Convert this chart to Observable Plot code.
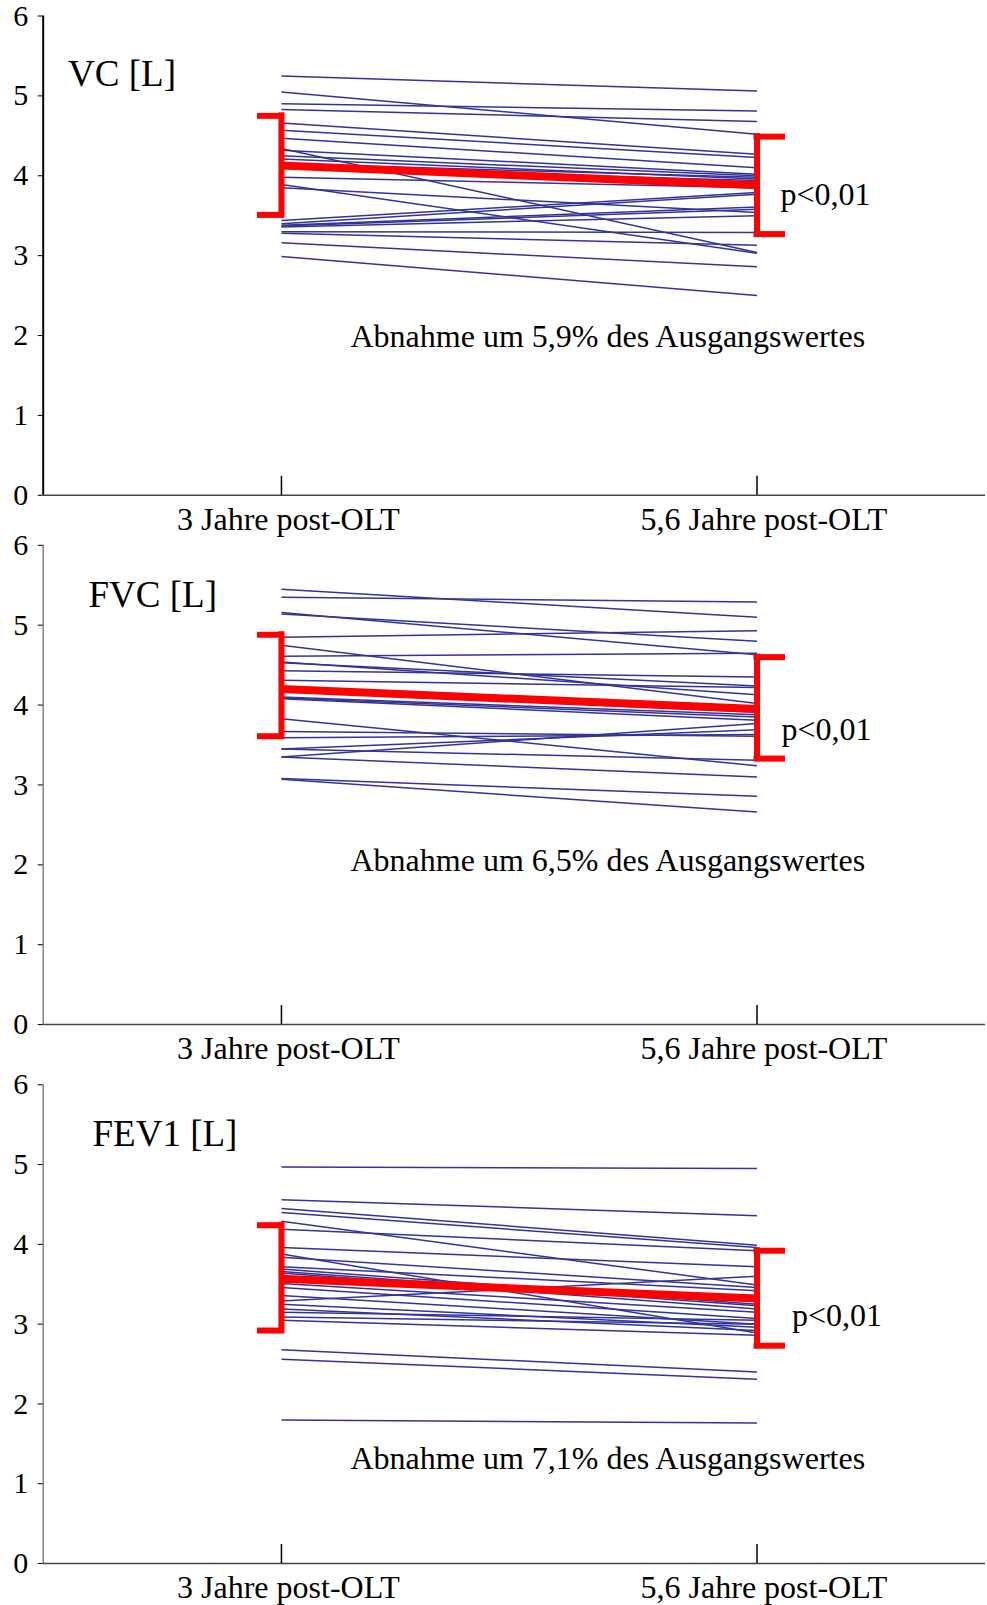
<!DOCTYPE html>
<html>
<head>
<meta charset="utf-8">
<script src="https://cdn.jsdelivr.net/npm/d3@7"></script>
<script src="https://cdn.jsdelivr.net/npm/@observablehq/plot@0.6"></script>
<style>
  body { margin: 0; background: #fff; }
  #chart { width: 987px; }
  #chart svg { display: block; overflow: visible; }
</style>
</head>
<body>
<div id="chart"></div>
<script>
// ---------- data ----------
const categories = ["3 Jahre post-OLT", "5,6 Jahre post-OLT"];
const yTicks = [0, 1, 2, 3, 4, 5, 6];
const panelTitles = ["VC [L]", "FVC [L]", "FEV1 [L]"];
const pLabels = ["p<0,01", "p<0,01", "p<0,01"];
const decreaseLabels = [
  "Abnahme um 5,9% des Ausgangswertes",
  "Abnahme um 6,5% des Ausgangswertes",
  "Abnahme um 7,1% des Ausgangswertes"
];

// individual patients: value at 3 years, value at 5.6 years
const vc3  = [5.25, 5.05, 4.90, 4.83, 4.66, 4.57, 4.47, 4.34, 4.32, 4.25, 4.21, 4.15, 4.10, 3.98, 3.89, 3.85, 3.44, 3.40, 3.38, 3.37, 3.36, 3.30, 3.28, 3.16, 2.99];
const vc56 = [5.06, 4.52, 4.81, 4.68, 4.27, 4.23, 4.10, 3.04, 4.02, 4.00, 3.96, 3.98, 3.94, 3.85, 3.03, 3.54, 3.79, 3.77, 3.61, 3.58, 3.50, 3.29, 3.13, 2.86, 2.50];

const fvc3  = [5.45, 5.35, 5.16, 5.14, 4.85, 4.75, 4.61, 4.54, 4.53, 4.43, 4.31, 4.18, 4.10, 4.09, 4.08, 3.83, 3.67, 3.59, 3.45, 3.35, 3.45, 3.35, 3.08, 3.07];
const fvc56 = [5.10, 5.29, 4.63, 4.80, 4.93, 4.02, 4.65, 4.13, 4.24, 4.35, 4.22, 3.91, 3.88, 3.85, 3.81, 3.24, 3.61, 3.63, 3.69, 3.77, 3.31, 3.10, 2.86, 2.66];

const fev3  = [4.97, 4.56, 4.45, 4.40, 4.29, 4.19, 3.96, 3.88, 3.84, 3.72, 3.69, 3.66, 3.64, 3.51, 3.46, 3.29, 3.36, 3.25, 3.19, 3.15, 3.09, 3.05, 2.68, 2.56, 1.80];
const fev56 = [4.95, 4.36, 3.99, 3.96, 3.49, 3.92, 3.72, 2.89, 3.46, 3.42, 3.25, 3.23, 3.19, 3.15, 3.07, 3.60, 3.00, 2.96, 2.92, 3.05, 3.00, 2.86, 2.40, 2.31, 1.76];

// group means and mean ± SD ranges [low, high]
const meanStart = [4.13, 4.20, 3.57];
const meanEnd   = [3.88, 3.95, 3.32];
const rangeStart = [[3.51, 4.75], [3.61, 4.88], [2.92, 4.24]];
const rangeEnd   = [[3.27, 4.49], [3.33, 4.60], [2.73, 3.92]];

const seriesStart = [vc3, fvc3, fev3];
const seriesEnd = [vc56, fvc56, fev56];

// ---------- layout / styles ----------
const W = 987;
const xDomain = [-0.501, 1.4805];
const font = "'Liberation Serif', 'Times New Roman', Times, serif";
const blue = "#333399";
const red = "#ff0000";
const layout = [
  {height: 536, marginTop: 15.5, marginBottom: 41.2, axisColor: "#000", axisWidth: 2,
   title: {dx: 24.9, dy: 43.4}, p: {dx: 737.3, dy: 166}, note: {dx: 307.3, dy: 308}},
  {height: 536, marginTop: 8.8, marginBottom: 47.9, axisColor: "#808080", axisWidth: 1.5,
   title: {dx: 45.3, dy: 35.3}, p: {dx: 738.3, dy: 172.2}, note: {dx: 307.3, dy: 302.7}},
  {height: 533, marginTop: 12.3, marginBottom: 42, axisColor: "#808080", axisWidth: 1.5,
   title: {dx: 49.3, dy: 35}, p: {dx: 748.8, dy: 218.2}, note: {dx: 307.3, dy: 361.2}}
];

const chart = document.getElementById("chart");

layout.forEach((L, k) => {
  const pairs = seriesStart[k].map((v, i) => ({a: v, b: seriesEnd[k][i]}));
  const mean = [{a: meanStart[k], b: meanEnd[k]}];
  const brStart = [{x: 0, lo: rangeStart[k][0], hi: rangeStart[k][1]}];
  const brEnd = [{x: 1, lo: rangeEnd[k][0], hi: rangeEnd[k][1]}];
  const serifStart = rangeStart[k].map(v => ({x: 0, y: v}));
  const serifEnd = rangeEnd[k].map(v => ({x: 1, y: v}));

  const plot = Plot.plot({
    width: W,
    height: L.height,
    marginTop: L.marginTop,
    marginBottom: L.marginBottom,
    marginLeft: 42.7,
    marginRight: 2,
    style: {fontFamily: font, background: "#fff", color: "#000", overflow: "visible"},
    x: {type: "linear", domain: xDomain},
    y: {domain: [0, 6]},
    marks: [
      // axes lines
      Plot.ruleX([xDomain[0]], {stroke: L.axisColor, strokeWidth: L.axisWidth}),
      Plot.ruleY([0], {stroke: "#444", strokeWidth: 1.5}),
      Plot.axisY(yTicks, {tickSize: 5, tickPadding: 10, tickFormat: d => String(d), fontSize: 30, stroke: "#000", fill: "#000", label: null}),
      Plot.axisX([0, 1], {tickSize: 19, dy: -19, tickFormat: () => "", stroke: "#000", strokeWidth: 1.5, label: null}),
      Plot.axisX([0, 1], {tickSize: 0, tickPadding: 12, tickFormat: i => categories[i], fontSize: 32, dx: 7, fill: "#000", label: null}),
      // individual lines
      Plot.link(pairs, {x1: () => 0, y1: "a", x2: () => 1, y2: "b", stroke: blue, strokeWidth: 1.5}),
      // mean line
      Plot.link(mean, {x1: () => 0, y1: "a", x2: () => 1, y2: "b", stroke: red, strokeWidth: 8}),
      // brackets (mean ± SD)
      Plot.ruleX(brStart, {x: "x", y1: "lo", y2: "hi", stroke: red, strokeWidth: 6, strokeLinecap: "square"}),
      Plot.ruleY(serifStart, {y: "y", x1: "x", x2: "x", insetLeft: -21, stroke: red, strokeWidth: 6, strokeLinecap: "square"}),
      Plot.ruleX(brEnd, {x: "x", y1: "lo", y2: "hi", stroke: red, strokeWidth: 6, strokeLinecap: "square"}),
      Plot.ruleY(serifEnd, {y: "y", x1: "x", x2: "x", insetRight: -25.5, stroke: red, strokeWidth: 6, strokeLinecap: "square"}),
      // annotations
      Plot.text([panelTitles[k]], {frameAnchor: "top-left", text: d => d, textAnchor: "start",
        dx: L.title.dx, dy: L.title.dy, fontSize: 37, fill: "#000"}),
      Plot.text([pLabels[k]], {frameAnchor: "top-left", text: d => d, textAnchor: "start",
        dx: L.p.dx, dy: L.p.dy, fontSize: 32, fill: "#000"}),
      Plot.text([decreaseLabels[k]], {frameAnchor: "top-left", text: d => d, textAnchor: "start",
        dx: L.note.dx, dy: L.note.dy, fontSize: 32, fill: "#000"})
    ]
  });
  chart.appendChild(plot);
});
</script>
</body>
</html>
